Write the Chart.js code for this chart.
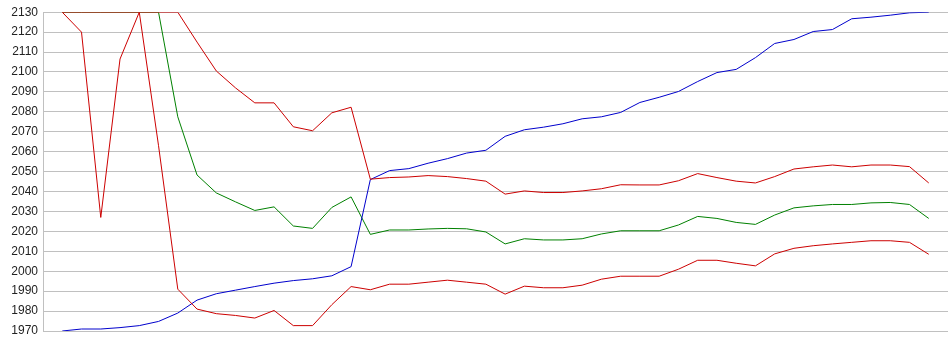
<!DOCTYPE html>
<html>
<head>
<meta charset="utf-8">
<script src="https://cdn.jsdelivr.net/npm/chart.js@4"></script>
<style>
  html, body { margin: 0; padding: 0; background: #ffffff; }
  #wrap { width: 950px; height: 355px; position: relative; }
</style>
</head>
<body>
<div id="wrap"><canvas id="c" width="950" height="355"></canvas></div>
<script>
// Point positions (index along the horizontal axis)
const pointIndex = [1,2,3,4,5,6,7,8,9,10,11,12,13,14,15,16,17,18,19,20,21,22,23,24,25,26,27,28,29,30,31,32,33,34,35,36,37,38,39,40,41,42,43,44,45,46];

// Y-axis tick labels
const yTicks = [1970,1980,1990,2000,2010,2020,2030,2040,2050,2060,2070,2080,2090,2100,2110,2120,2130];

// Series values
const redUpper = [2130,2130,2130,2130,2130,2130,2130,2115,2100.5,2092,2084.5,2084.5,2072.5,2070.5,2079.5,2082.3,2046.2,2047,2047.3,2048,2047.5,2046.5,2045.2,2038.7,2040.3,2039.5,2039.5,2040.3,2041.4,2043.4,2043.3,2043.3,2045.4,2049,2047,2045.2,2044.3,2047.5,2051.3,2052.4,2053.3,2052.4,2053.3,2053.3,2052.5,2044.3];

const greenMid = [2130,2130,2130,2130,2130,2130,2077.5,2048.3,2039.3,2034.8,2030.5,2032.3,2022.7,2021.5,2032,2037.3,2018.5,2020.7,2020.7,2021.2,2021.5,2021.3,2019.7,2013.7,2016.3,2015.7,2015.7,2016.3,2018.7,2020.3,2020.3,2020.3,2023.2,2027.5,2026.5,2024.5,2023.5,2028.2,2031.8,2032.8,2033.5,2033.5,2034.3,2034.5,2033.5,2026.5];

const redLower = [2130,2120,2027,2106.5,2130,2063,1991,1981,1978.7,1977.8,1976.5,1980.3,1972.7,1972.7,1983.2,1992.3,1990.7,1993.5,1993.5,1994.5,1995.5,1994.5,1993.5,1988.5,1992.5,1991.7,1991.7,1993,1996,1997.5,1997.5,1997.5,2001,2005.5,2005.5,2004,2002.7,2008.7,2011.5,2012.8,2013.7,2014.5,2015.3,2015.3,2014.5,2008.5];

const blueRise = [1970,1971,1971,1971.7,1972.7,1974.8,1979,1985.5,1988.7,1990.5,1992.3,1994,1995.3,1996.2,1997.7,2002.3,2046,2050.5,2051.5,2054.2,2056.5,2059.3,2060.7,2067.7,2071,2072.3,2074,2076.5,2077.5,2079.7,2084.7,2087.3,2090.2,2095.2,2099.7,2101.3,2107.2,2114.3,2116.3,2120.3,2121.3,2126.7,2127.5,2128.5,2129.7,2130];

const lineStyle = (color) => ({
  borderColor: color,
  backgroundColor: color,
  borderWidth: 1,
  pointRadius: 0,
  pointHoverRadius: 0,
  tension: 0,
  fill: false
});

new Chart(document.getElementById('c'), {
  type: 'line',
  data: {
    labels: pointIndex,
    datasets: [
      Object.assign({ label: 'upper', data: redUpper, order: 0 }, lineStyle('#cc0000')),
      Object.assign({ label: 'lower', data: redLower, order: 1 }, lineStyle('#cc0000')),
      Object.assign({ label: 'blue', data: blueRise, order: 2 }, lineStyle('#0000cc')),
      Object.assign({ label: 'green', data: greenMid, order: 3 }, lineStyle('#008000'))
    ]
  },
  options: {
    responsive: false,
    animation: false,
    events: [],
    layout: { padding: { top: 10, right: 2, bottom: 24, left: 0 } },
    plugins: { legend: { display: false }, tooltip: { enabled: false } },
    scales: {
      x: {
        type: 'linear',
        min: 0,
        max: 47,
        display: false
      },
      y: {
        min: 1970,
        max: 2130,
        afterFit: (s) => { s.width = 43; },
        afterBuildTicks: (s) => { s.ticks = yTicks.map(v => ({ value: v })); },
        grid: { color: '#c0c0c0', lineWidth: 1, drawTicks: false },
        border: { display: true, color: '#c0c0c0', width: 1 },
        ticks: {
          color: '#222222',
          padding: 5,
          callback: (v) => String(v),
          font: { family: 'Liberation Sans, Arial, sans-serif', size: 12 }
        }
      }
    }
  }
});
</script>
</body>
</html>
